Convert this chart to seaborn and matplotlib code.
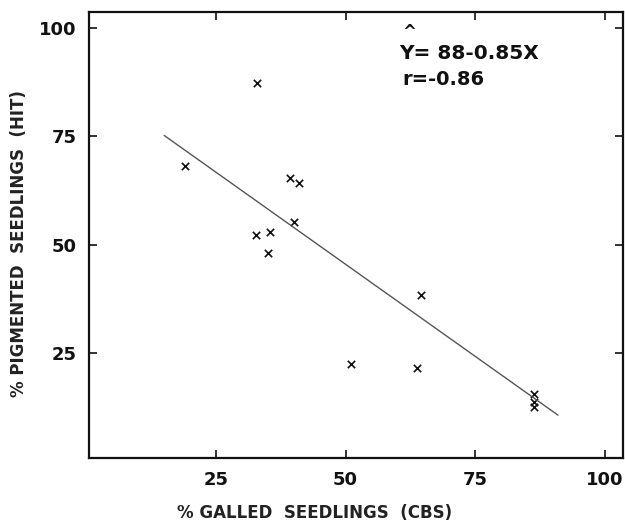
import matplotlib
matplotlib.use("Agg")
import matplotlib.pyplot as plt
import seaborn as sns
import pandas as pd

# Points
galled = [19.0, 32.9, 32.7, 35.4, 35.0, 39.2, 41.0, 40.0, 51.0, 63.7, 64.6, 86.3, 86.3, 86.3]
pigmented = [68.1, 87.3, 52.1, 53.0, 48.1, 65.3, 64.1, 55.3, 22.5, 21.5, 38.4, 15.5, 13.7, 12.5]

# Regression line end points (Y = 88 - 0.85X)
line_x = [15, 91]
line_y = [75.2, 10.6]

ticks = [25, 50, 75, 100]
eq_text = "Y= 88-0.85X"
r_text = "r=-0.86"
x_label = "% GALLED  SEEDLINGS  (CBS)"
y_label = "% PIGMENTED  SEEDLINGS  (HIT)"

sns.set_theme(style="ticks")
plt.rcParams['font.family'] = ['DejaVu Sans']

df = pd.DataFrame({"galled": galled, "pigmented": pigmented})
line_df = pd.DataFrame({"x": line_x, "y": line_y})

fig = plt.figure(figsize=(6.25, 5.29), dpi=100)
ax = fig.add_axes([0.1424, 0.1342, 0.854, 0.8431])

sns.lineplot(data=line_df, x="x", y="y", ax=ax, color="#555555", linewidth=1.0)
sns.scatterplot(data=df, x="galled", y="pigmented", ax=ax, marker="x",
                color="#111111", s=28, linewidth=1.2)

ax.set_xlim(0.5, 103.5)
ax.set_ylim(0.7, 103.7)
ax.set_xticks(ticks)
ax.set_yticks(ticks)
ax.tick_params(direction="in", length=6, width=1.2, top=True, right=True,
               labelsize=13, colors="#111111", pad=9)
for lbl in ax.get_xticklabels() + ax.get_yticklabels():
    lbl.set_fontweight("bold")
for sp in ax.spines.values():
    sp.set_visible(True)
    sp.set_linewidth(1.6)
    sp.set_color("#111111")

ax.set_xlabel(x_label, fontsize=12, fontweight="bold", color="#222222")
ax.xaxis.set_label_coords(0.423, -0.103)
ax.set_ylabel(y_label, fontsize=12, fontweight="bold", color="#222222")
ax.yaxis.set_label_coords(-0.115, 0.48)

ax.text(60.4, 94.2, eq_text, fontsize=14.5, fontweight="bold", color="#111111", va="center")
ax.text(60.9, 99.0, "^", fontsize=12, fontweight="bold", color="#111111", va="center")
ax.text(61.0, 88.2, r_text, fontsize=14, fontweight="bold", color="#111111", va="center")

fig.savefig("out.png", dpi=100)
plt.close(fig)
